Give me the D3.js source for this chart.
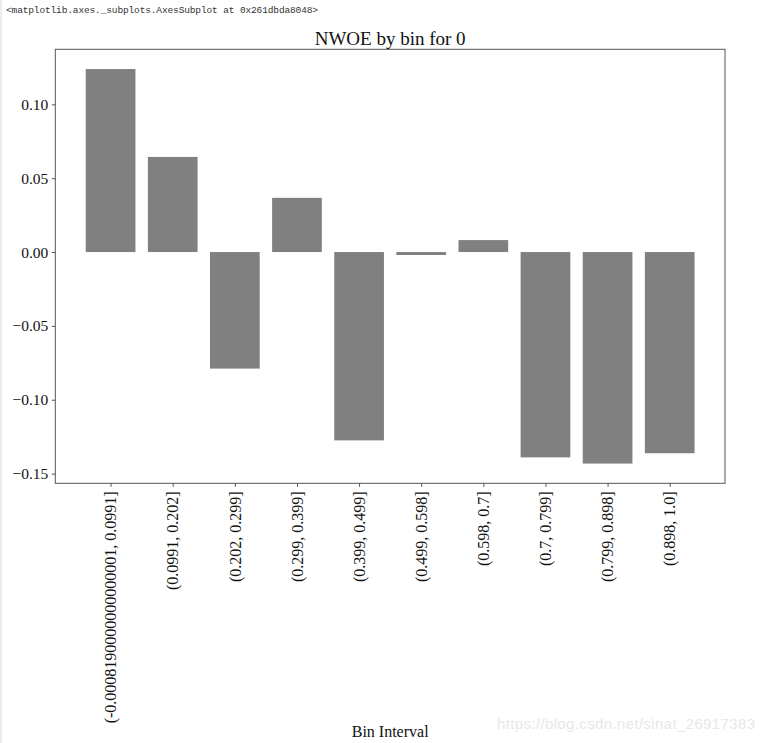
<!DOCTYPE html>
<html>
<head>
<meta charset="utf-8">
<script src="https://cdn.jsdelivr.net/npm/d3@7"></script>
<style>
  html, body { margin: 0; padding: 0; background: #fff; }
  svg { display: block; }
</style>
</head>
<body>
<div id="chart"></div>
<script>
// NWOE per bin
const bins = [
  '(-0.0008190000000000001, 0.0991]',
  '(0.0991, 0.202]',
  '(0.202, 0.299]',
  '(0.299, 0.399]',
  '(0.399, 0.499]',
  '(0.499, 0.598]',
  '(0.598, 0.7]',
  '(0.7, 0.799]',
  '(0.799, 0.898]',
  '(0.898, 1.0]'
];
const nwoe = [0.1239, 0.0644, -0.0789, 0.0367, -0.1275, -0.0020, 0.0081, -0.1390, -0.1432, -0.1362];
const yTicks = [0.10, 0.05, 0.00, -0.05, -0.10, -0.15];

const width = 762, height = 743;
const box = { left: 55.3, right: 725, top: 49.3, bottom: 483.3 };

const svg = d3.select('#chart').append('svg')
  .attr('width', width)
  .attr('height', height);

// notebook output line + left cell border
svg.append('rect').attr('x', 0).attr('y', 0).attr('width', 2).attr('height', height).attr('fill', '#ededed');
svg.append('text')
  .attr('x', 6).attr('y', 13)
  .attr('font-family', 'Liberation Mono, DejaVu Sans Mono, monospace')
  .attr('font-size', 9.5)
  .attr('fill', '#333')
  .attr('textLength', 312)
  .text('<matplotlib.axes._subplots.AxesSubplot at 0x261dbda8048>');

// matplotlib-like autoscale: 0.4 half-width bars, 5% margins
const xSpan = (bins.length - 1 + 0.8);
const x = d3.scaleLinear()
  .domain([-0.4 - 0.05 * xSpan, bins.length - 0.6 + 0.05 * xSpan])
  .range([box.left, box.right]);

const yMin = d3.min(nwoe), yMax = d3.max(nwoe);
const yPad = (yMax - yMin) * 0.05;
const y = d3.scaleLinear()
  .domain([yMin - yPad, yMax + yPad])
  .range([box.bottom, box.top]);

const serif = 'Liberation Serif, Times New Roman, DejaVu Serif, serif';

// Bars
svg.append('g')
  .selectAll('rect')
  .data(nwoe)
  .join('rect')
  .attr('x', (d, i) => x(i - 0.4))
  .attr('width', x(0.8) - x(0))
  .attr('y', d => y(Math.max(0, d)))
  .attr('height', d => Math.abs(y(d) - y(0)))
  .attr('fill', '#808080');

// Y axis
const yAxis = svg.append('g')
  .attr('transform', `translate(${box.left},0)`)
  .call(d3.axisLeft(y).tickValues(yTicks).tickSize(3.5).tickPadding(3.5)
    .tickFormat(d => d3.format('.2f')(d).replace('-', '\u2212')));
yAxis.select('.domain').remove();
yAxis.selectAll('line').attr('stroke', '#555');
yAxis.selectAll('text')
  .attr('font-family', serif)
  .attr('font-size', 15.5)
  .attr('fill', '#111');

// X axis
const xAxis = svg.append('g')
  .attr('transform', `translate(0,${box.bottom})`)
  .call(d3.axisBottom(x).tickValues(d3.range(bins.length)).tickSize(3.5).tickPadding(0)
    .tickFormat(i => bins[i]));
xAxis.select('.domain').remove();
xAxis.selectAll('line').attr('stroke', '#555');
xAxis.selectAll('text')
  .attr('font-family', serif)
  .attr('font-size', 16)
  .attr('fill', '#111')
  .attr('text-anchor', 'end')
  .attr('transform', 'rotate(-90)')
  .attr('x', -8)
  .attr('y', 0)
  .attr('dy', '0.33em');

// Frame
svg.append('rect')
  .attr('x', box.left).attr('y', box.top)
  .attr('width', box.right - box.left)
  .attr('height', box.bottom - box.top)
  .attr('fill', 'none')
  .attr('stroke', '#555')
  .attr('stroke-width', 1);

// Title and axis label
svg.append('text')
  .attr('x', (box.left + box.right) / 2).attr('y', 45)
  .attr('text-anchor', 'middle')
  .attr('font-family', serif)
  .attr('font-size', 19)
  .attr('fill', '#111')
  .text('NWOE by bin for 0');

svg.append('text')
  .attr('x', (box.left + box.right) / 2).attr('y', 737)
  .attr('text-anchor', 'middle')
  .attr('font-family', serif)
  .attr('font-size', 16)
  .attr('fill', '#111')
  .text('Bin Interval');

// watermark
svg.append('text')
  .attr('x', 497).attr('y', 729)
  .attr('font-family', 'Liberation Sans, Arial, sans-serif')
  .attr('font-size', 15)
  .attr('fill', '#e8e8e8')
  .attr('textLength', 258)
  .text('https://blog.csdn.net/sinat_26917383');
</script>
</body>
</html>
